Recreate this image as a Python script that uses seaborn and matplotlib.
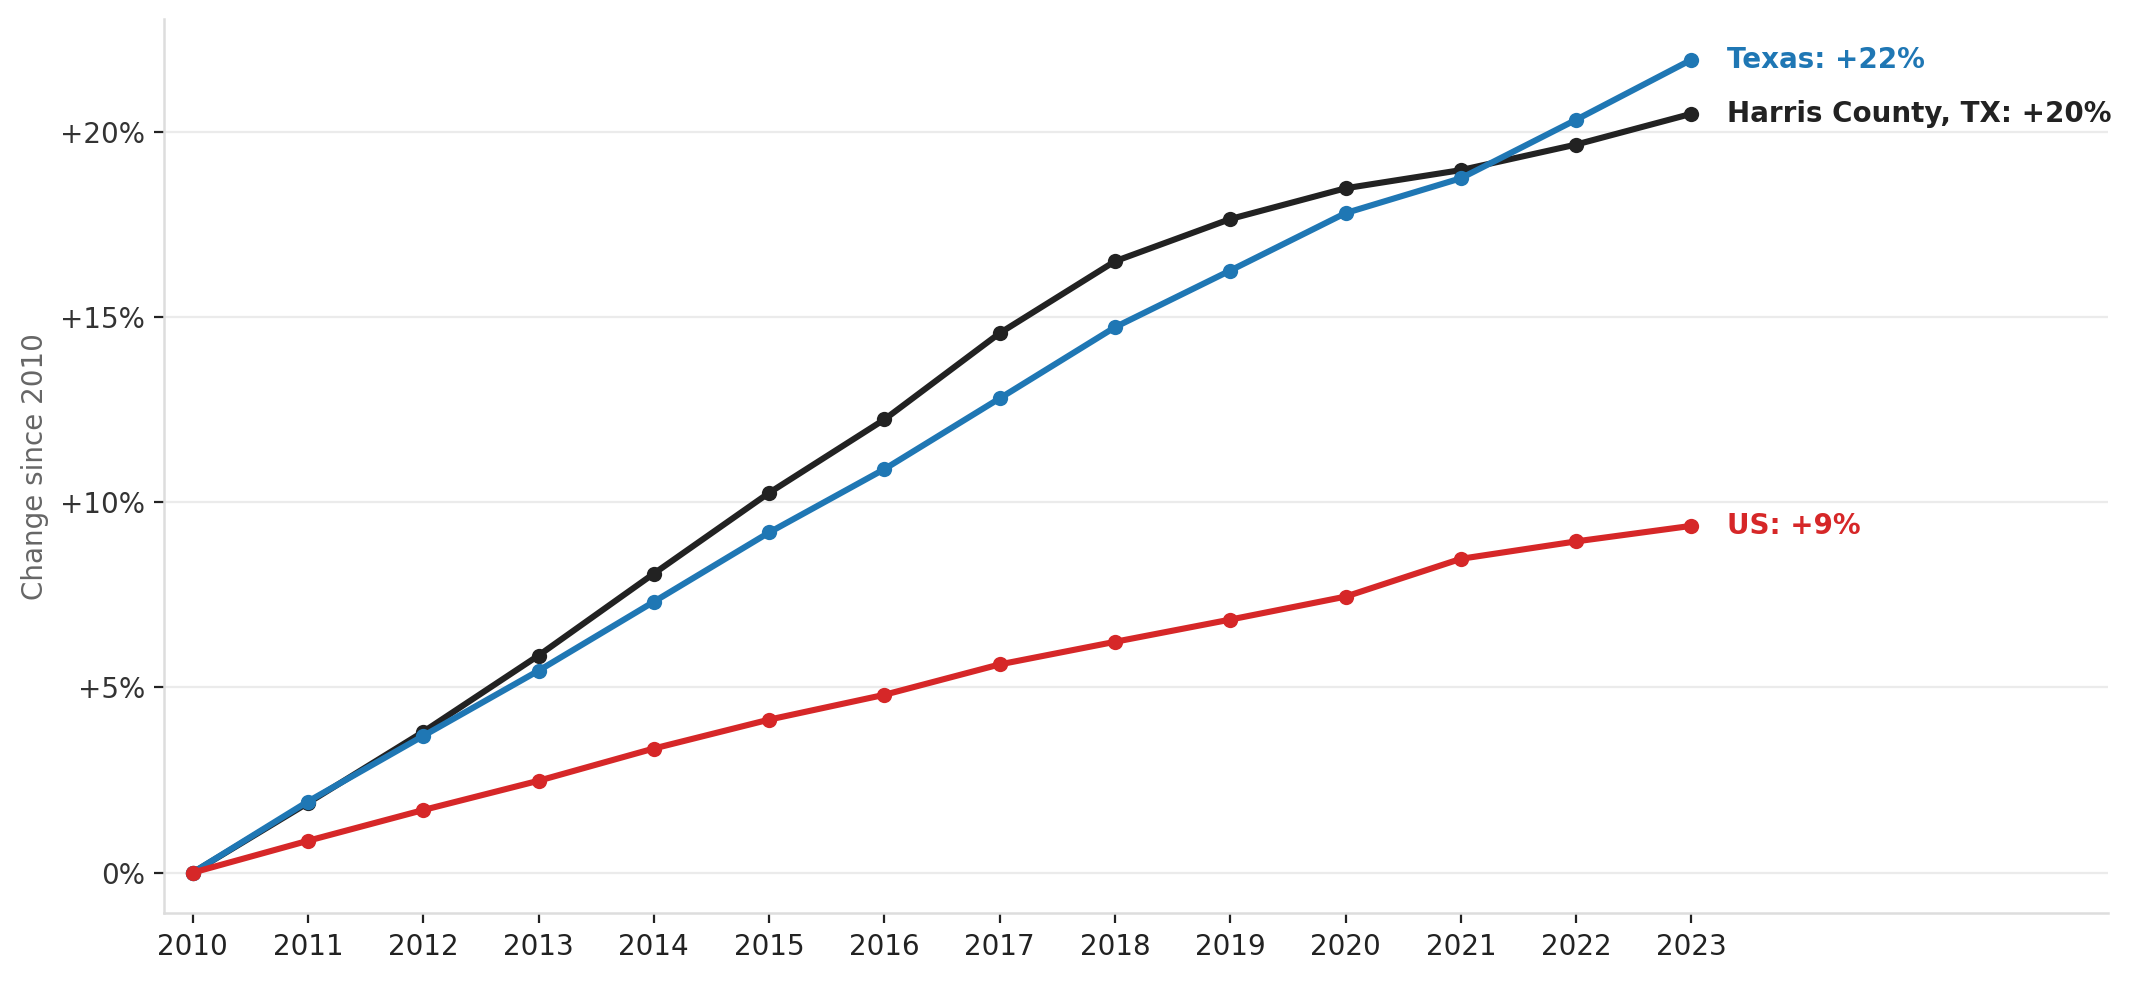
import pandas as pd
import matplotlib
matplotlib.use("Agg")
import matplotlib.pyplot as plt
import seaborn as sns
from matplotlib.ticker import FuncFormatter

years = list(range(2010, 2024))

harris = [0.0, 1.88, 3.80, 5.86, 8.07, 10.25, 12.23, 14.56, 16.50, 17.64, 18.47, 18.96, 19.65, 20.48]
texas = [0.0, 1.92, 3.69, 5.45, 7.31, 9.18, 10.89, 12.80, 14.72, 16.25, 17.80, 18.74, 20.32, 21.94]
us = [0.0, 0.86, 1.69, 2.48, 3.35, 4.13, 4.80, 5.62, 6.23, 6.83, 7.45, 8.47, 8.94, 9.36]

regions = ["Harris County, TX", "Texas", "US"]
colors = {"Harris County, TX": "#222222", "Texas": "#1f77b4", "US": "#d62728"}
end_labels = {"Harris County, TX": "Harris County, TX: +20%", "Texas": "Texas: +22%", "US": "US: +9%"}

df = pd.DataFrame({
    "year": years * 3,
    "change": harris + texas + us,
    "region": [r for r in regions for _ in years],
})

sns.set_style("ticks")
plt.rcParams["font.family"] = ["DejaVu Sans"]

fig, ax = plt.subplots(figsize=(10.645, 4.905), dpi=200)
fig.subplots_adjust(left=0.0772, right=0.990, top=0.9806, bottom=0.069)

sns.lineplot(data=df, x="year", y="change", hue="region", hue_order=regions,
             palette=colors, marker="o", markersize=5.5, markeredgewidth=0,
             linewidth=2.2, legend=False, ax=ax)

# labels at the end of each line
for r in regions:
    last = df[(df.region == r) & (df.year == years[-1])]
    ax.text(years[-1] + 0.31, last.change.iloc[0], end_labels[r], color=colors[r],
            fontsize=10, fontweight="bold", va="center", ha="left")

ax.set_xlim(2009.755, 2026.61)
ax.set_xticks(years)
ax.set_yticks([0, 5, 10, 15, 20])
ax.yaxis.set_major_formatter(FuncFormatter(lambda v, _: "0%" if v == 0 else f"+{v:.0f}%"))
ax.yaxis.grid(True, color="#ebebeb", linewidth=0.8)
ax.set_axisbelow(True)

ax.set_xlabel("")
ax.set_ylabel("Change since 2010", fontsize=10, color="#666666")
ax.tick_params(axis="both", labelsize=10, labelcolor="#333333", color="#222222",
               length=3.5, width=0.8)
ax.tick_params(axis="x", labelcolor="#222222")

sns.despine(ax=ax)
for side in ["left", "bottom"]:
    ax.spines[side].set_color("#dddddd")
    ax.spines[side].set_linewidth(0.9)

fig.savefig("out.png", dpi=200)
